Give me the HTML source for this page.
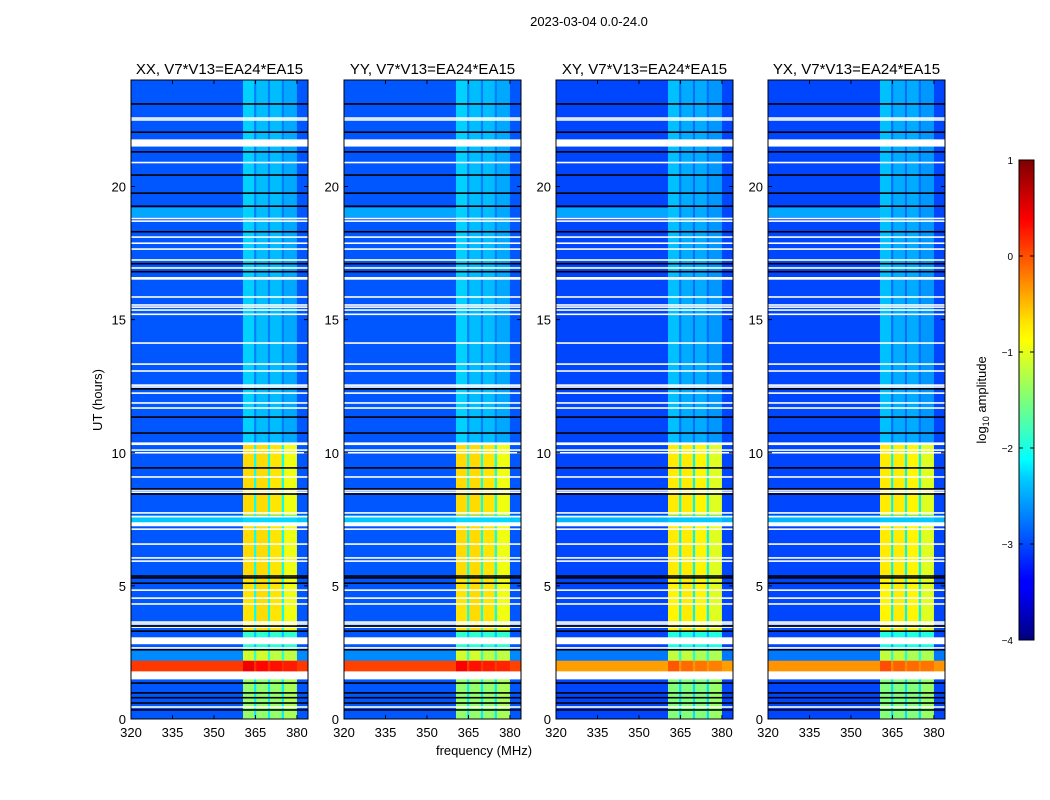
<!DOCTYPE html>
<html><head><meta charset="utf-8">
<style>
html,body{margin:0;padding:0;background:#fff;}
svg{display:block;font-family:"Liberation Sans","DejaVu Sans",sans-serif;}
</style></head>
<body>
<svg id="chart" width="1050" height="800" viewBox="0 0 1050 800" xmlns="http://www.w3.org/2000/svg">
<defs>
<linearGradient id="jet" x1="0" y1="1" x2="0" y2="0">
<stop offset="0" stop-color="#00007f"/>
<stop offset="0.11" stop-color="#0000ff"/>
<stop offset="0.125" stop-color="#0000ff"/>
<stop offset="0.34" stop-color="#00d0ff"/>
<stop offset="0.375" stop-color="#00ffff"/>
<stop offset="0.5" stop-color="#7dff7a"/>
<stop offset="0.625" stop-color="#ffff00"/>
<stop offset="0.66" stop-color="#ffe600"/>
<stop offset="0.875" stop-color="#ff0000"/>
<stop offset="1" stop-color="#7f0000"/>
</linearGradient>
</defs>
<text x="589" y="26" font-size="13" text-anchor="middle">2023-03-04 0.0-24.0</text>
<g id="panels"></g>
<text transform="translate(102,400) rotate(-90)" font-size="13" text-anchor="middle">UT (hours)</text>
<text x="484" y="755" font-size="13" text-anchor="middle">frequency (MHz)</text>
<g>
<rect x="1019" y="160" width="15" height="480" fill="url(#jet)" stroke="#000" stroke-width="1"/>
<g id="cbticks"></g>
<text transform="translate(986,400) rotate(-90)" font-size="13" text-anchor="middle">log<tspan font-size="9" dy="3">10</tspan><tspan dy="-3"> amplitude</tspan></text>
</g>
</svg>
<script>
// ---- data ----
const panelTitles = ["XX, V7*V13=EA24*EA15","YY, V7*V13=EA24*EA15","XY, V7*V13=EA24*EA15","YX, V7*V13=EA24*EA15"];
const freqEdges = [320, 360.5, 364.5, 365.3, 369.5, 370.3, 374.5, 375.3, 380, 384];
const timeEdges = [0, 1.5, 1.8, 2.2, 2.6, 2.82, 3.08, 3.3, 5.3, 7.25, 7.4, 7.66, 10.3, 10.4, 24];
// log10 amplitude per time row, per frequency band (null = flagged/white)
const rowValues = [
  [-2.95,-1.4,-2.2,-1.4,-2.2,-1.4,-2.2,-1.3,-2.95],
  [null,null,null,null,null,null,null,null,null],
  [0.1,0.45,0.15,0.35,0.15,0.3,0.15,0.25,0.1],
  [-2.7,-1.1,-1.9,-1.1,-1.9,-1.2,-1.9,-1.2,-2.7],
  [-2.95,-1.9,-2.4,-1.9,-2.4,-1.9,-2.4,-1.9,-2.95],
  [null,null,null,null,null,null,null,null,null],
  [-2.95,-1.9,-2.4,-1.9,-2.4,-1.9,-2.4,-1.9,-2.95],
  [-2.95,-0.75,-2.1,-0.7,-2.1,-0.75,-2.1,-0.95,-2.95],
  [-2.95,-0.7,-2.1,-0.7,-2.1,-0.75,-2.1,-0.95,-2.95],
  [null,null,null,null,null,null,null,null,null],
  [-2.4,-2.3,-2.3,-2.3,-2.3,-2.3,-2.3,-2.3,-2.4],
  [-2.95,-0.7,-2.1,-0.7,-2.1,-0.75,-2.1,-0.95,-2.95],
  [null,null,null,null,null,null,null,null,null],
  [-2.95,-2.35,-2.75,-2.45,-2.75,-2.45,-2.75,-2.55,-2.95]
];
// per-panel value of the strong broadband row (1.8-2.2 h)
const broadbandLevel = [0.1, 0.05, -0.4, -0.35];
const panelBgShift = [0, 0, -0.08, -0.08];
const cyanBand = [18.85, 19.2, -2.55];
const whiteLines = [0.45,2.67,3.45,3.57,3.64,4.32,4.54,4.84,5.93,6.05,6.57,7.13,7.6,7.74,8.52,8.6,9.09,10.0,10.1,11.68,11.87,12.24,12.47,12.54,13.07,13.33,14.12,15.2,15.36,15.47,15.55,15.85,16.94,17.24,17.65,17.87,18.1,18.7,18.8,20.9,22.5,22.57];
const whiteBands = [[21.5,21.77],[16.5,16.6]];
const blackLines = [0.34,0.6,0.8,0.98,1.35,2.6,3.3,3.49,5.1,5.3,5.37,8.45,8.64,9.43,10.74,11.34,12.4,16.8,17.1,18.3,19.26,19.75,20.43,21.3,22.04,23.1];
const xTicks = [320,335,350,365,380];
const yTicks = [0,5,10,15,20];
const cbTicks = [1,0,-1,-2,-3,-4];

// ---- geometry ----
const panelX = [131,344,556,768];
const pW = 177, pTop = 80, pBot = 719;
const NS = "http://www.w3.org/2000/svg";
function xs(f, px){ return px + (f-320)/(384-320)*pW; }
function ys(h){ return pBot - h/24*(pBot-pTop); }
function jet(v){
  const t = Math.max(0, Math.min(1,(v+4)/5));
  const c = a => Math.round(255*Math.max(0,Math.min(1,1.5-Math.abs(4*t-a))));
  return `rgb(${c(3)},${c(2)},${c(1)})`;
}
function mk(tag, attrs, parent){
  const e = document.createElementNS(NS, tag);
  for (const k in attrs) e.setAttribute(k, attrs[k]);
  parent.appendChild(e); return e;
}
const panels = document.getElementById('panels');
panelX.forEach((px, p) => {
  const g = mk('g', {}, panels);
  
  
  const hm = mk('g', {}, g);
  
  
  for (let i = 0; i < rowValues.length; i++){
    for (let j = 0; j < freqEdges.length-1; j++){
      let v = rowValues[i][j];
      let fill = '#fff';
      if (v !== null){
        if (timeEdges[i] === 1.8) v = broadbandLevel[p] + (v - rowValues[i][0]);
        else v = v + panelBgShift[p];
        fill = jet(v);
      }
      const x0 = xs(freqEdges[j], px), x1 = xs(freqEdges[j+1], px);
      const y0 = ys(timeEdges[i+1]), y1 = ys(timeEdges[i]);
      const r = mk('rect', {x:x0.toFixed(2), y:y0.toFixed(2), width:(x1-x0+0.3).toFixed(2), height:(y1-y0+0.3).toFixed(2), fill:fill}, hm);
      
      
    }
  }
  const cb = mk('rect', {x:px, y:ys(cyanBand[1]), width:xs(360.5,px)-px, height:ys(cyanBand[0])-ys(cyanBand[1]), fill:jet(cyanBand[2])}, hm);
  
  
  whiteBands.forEach(b => {
    const r = mk('rect', {x:px, y:ys(b[1]), width:pW, height:ys(b[0])-ys(b[1]), fill:'#fff'}, hm);
    
    
  });
  whiteLines.forEach(h => {
    const r = mk('rect', {x:px, y:ys(h)-0.8, width:pW, height:1.6, fill:'#fff'}, hm);
    
    
  });
  blackLines.forEach(h => {
    const r = mk('rect', {x:px, y:ys(h)-0.8, width:pW, height:1.6, fill:'#000'}, hm);
    
    
  });
  const fr = mk('rect', {x:px, y:pTop, width:pW, height:pBot-pTop, fill:'none', stroke:'#000', 'stroke-width':1}, g);
  
  
  const t = mk('text', {x:px+pW/2, y:74, 'font-size':15, 'text-anchor':'middle'}, g);
  t.textContent = panelTitles[p];
  
  
  xTicks.forEach(f => {
    const x = xs(f, px);
    mk('line', {x1:x, x2:x, y1:pBot, y2:pBot-4, stroke:'#000'}, g);
    mk('line', {x1:x, x2:x, y1:pTop, y2:pTop+4, stroke:'#000'}, g);
    const l = mk('text', {x:x, y:737, 'font-size':13, 'text-anchor':'middle'}, g);
    l.textContent = f;
    
    
  });
  yTicks.forEach(h => {
    const y = ys(h);
    mk('line', {x1:px, x2:px+4, y1:y, y2:y, stroke:'#000'}, g);
    mk('line', {x1:px+pW, x2:px+pW-4, y1:y, y2:y, stroke:'#000'}, g);
    const l = mk('text', {x:px-5, y:y+5, 'font-size':13, 'text-anchor':'end'}, g);
    l.textContent = h;
    
    
  });
});
const cbg = document.getElementById('cbticks');
cbTicks.forEach(v => {
  const y = 160 + (1 - v)/5*480;
  mk('line', {x1:1019, x2:1023, y1:y, y2:y, stroke:'#000'}, cbg);
  mk('line', {x1:1034, x2:1030, y1:y, y2:y, stroke:'#000'}, cbg);
  const l = mk('text', {x:1013, y:y+4, 'font-size':10, 'text-anchor':'end'}, cbg);
  l.textContent = v < 0 ? '\u2212' + (-v) : v;
  
  
});
</script>
</body></html>
